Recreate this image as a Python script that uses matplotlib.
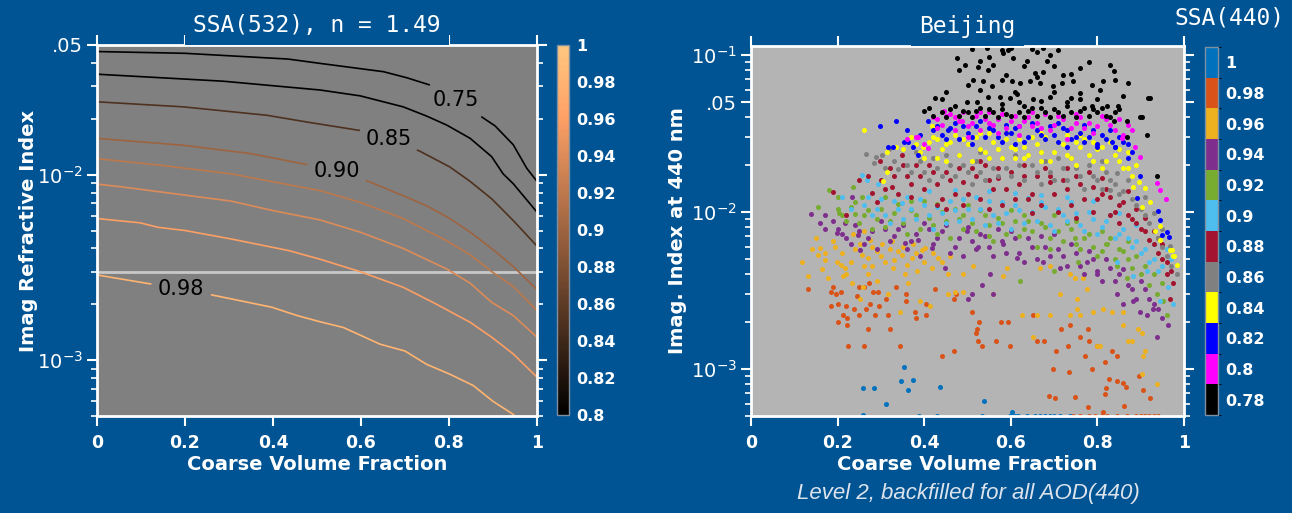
import numpy as np
import matplotlib
matplotlib.use('Agg')
import matplotlib.pyplot as plt
from matplotlib.colors import Normalize, ListedColormap, BoundaryNorm
from matplotlib.cm import ScalarMappable
from matplotlib.contour import ContourSet
from matplotlib.ticker import FixedLocator, FixedFormatter, LogLocator, NullFormatter

BG = '#005493'

# ---- left panel: SSA(532) isolines, coarse fraction vs imaginary index ----
ssa_levels = [0.75, 0.80, 0.85, 0.90, 0.92, 0.94, 0.96, 0.98]

cvf_075 = [0, 0.2, 0.434, 0.507, 0.651, 0.704, 0.757, 0.815, 0.874, 0.905, 0.946, 0.977, 1.0]
k_075 = [0.0461, 0.0451, 0.0420, 0.0398, 0.0359, 0.0333, 0.0304, 0.0254, 0.0205, 0.0183, 0.0145, 0.0108, 0.0092]

cvf_080 = [0, 0.287, 0.507, 0.598, 0.696, 0.749, 0.795, 0.848, 0.897, 0.923, 0.946, 1.0]
k_080 = [0.0348, 0.0319, 0.0286, 0.0266, 0.0232, 0.0207, 0.0185, 0.0157, 0.0125, 0.0101, 0.00894, 0.00628]

cvf_085 = [0, 0.196, 0.386, 0.484, 0.598, 0.664, 0.734, 0.802, 0.848, 0.897, 0.946, 1.0]
k_085 = [0.0247, 0.0232, 0.0209, 0.0191, 0.0173, 0.0155, 0.01337, 0.0110, 0.0092, 0.00741, 0.00566, 0.00412]

cvf_090 = [0, 0.196, 0.348, 0.48, 0.548, 0.617, 0.696, 0.749, 0.802, 0.848, 0.897, 0.946, 1.0]
k_090 = [0.0157, 0.0144, 0.0130, 0.0113, 0.0105, 0.0092, 0.0077, 0.0068, 0.0058, 0.0049, 0.0040, 0.0032, 0.0024]

cvf_092 = [0, 0.136, 0.305, 0.507, 0.598, 0.696, 0.795, 0.848, 0.897, 0.946, 1.0]
k_092 = [0.0122, 0.0113, 0.0101, 0.0082, 0.0071, 0.0058, 0.0044, 0.0037, 0.0030, 0.0025, 0.00185]

cvf_094 = [0, 0.055, 0.305, 0.4, 0.507, 0.598, 0.696, 0.795, 0.848, 0.897, 0.946, 1.0]
k_094 = [0.0089, 0.0086, 0.0072, 0.0064, 0.0057, 0.0049, 0.0040, 0.0031, 0.0026, 0.00205, 0.00174, 0.00133]

cvf_096 = [0, 0.098, 0.139, 0.2, 0.305, 0.435, 0.507, 0.598, 0.696, 0.772, 0.848, 0.897, 0.946, 1.0]
k_096 = [0.0058, 0.0055, 0.0052, 0.0050, 0.0045, 0.0039, 0.0035, 0.0030, 0.00247, 0.0020, 0.0016, 0.00133, 0.00108, 0.00081]

cvf_098 = [0, 0.136, 0.26, 0.397, 0.455, 0.507, 0.56, 0.643, 0.70, 0.749, 0.802, 0.855, 0.90, 0.946, 0.96]
k_098 = [0.00288, 0.00254, 0.00225, 0.00193, 0.00174, 0.00161, 0.0015, 0.00122, 0.00112, 0.00095, 0.00084, 0.00073, 0.0006, 0.00051, 0.00047]

cvf_lines = [cvf_075, cvf_080, cvf_085, cvf_090, cvf_092, cvf_094, cvf_096, cvf_098]
k_lines = [k_075, k_080, k_085, k_090, k_092, k_094, k_096, k_098]

# where the four labelled isolines carry their value
label_xy = [(0.821, 0.0263), (0.664, 0.0158), (0.548, 0.01115), (0.189, 0.00225)]
k_ref = 0.003

cb1_ticks = [0.8, 0.82, 0.84, 0.86, 0.88, 0.9, 0.92, 0.94, 0.96, 0.98, 1.0]
cb1_labels = ['0.8', '0.82', '0.84', '0.86', '0.88', '0.9', '0.92', '0.94', '0.96', '0.98', '1']

x_ticks = [0, 0.2, 0.4, 0.6, 0.8, 1.0]
x_labels = ['0', '0.2', '0.4', '0.6', '0.8', '1']

# ---- right panel: Beijing retrievals, binned by SSA(440) ----
ssa_classes = [0.78, 0.80, 0.82, 0.84, 0.86, 0.88, 0.90, 0.92, 0.94, 0.96, 0.98, 1.00]
ssa_class_labels = ['0.78', '0.8', '0.82', '0.84', '0.86', '0.88', '0.9', '0.92', '0.94', '0.96', '0.98', '1']
ssa_colors = ['#000000', '#FF00FF', '#0000FF', '#FFFF00', '#808080', '#A2142F',
              '#4DBEEE', '#77AC30', '#7E2F8E', '#EDB120', '#D95319', '#0072BD']

pts_078 = [(0.51, 0.109), (0.545, 0.111), (0.58, 0.108), (0.60, 0.110), (0.65, 0.109), (0.675, 0.111), (0.71, 0.108),
           (0.476, 0.096), (0.494, 0.086), (0.48, 0.080), (0.524, 0.084), (0.547, 0.080), (0.559, 0.086), (0.582, 0.103),
           (0.594, 0.107), (0.637, 0.091), (0.684, 0.092), (0.656, 0.077), (0.674, 0.078), (0.513, 0.069), (0.536, 0.068),
           (0.557, 0.063), (0.580, 0.069), (0.603, 0.068), (0.621, 0.066), (0.644, 0.068), (0.667, 0.066), (0.697, 0.063),
           (0.718, 0.066), (0.744, 0.068), (0.788, 0.064), (0.813, 0.068), (0.829, 0.086), (0.841, 0.069), (0.806, 0.060),
           (0.838, 0.079), (0.547, 0.054), (0.575, 0.054), (0.598, 0.053), (0.614, 0.056), (0.651, 0.052), (0.691, 0.054),
           (0.730, 0.050), (0.760, 0.052), (0.788, 0.047), (0.822, 0.047), (0.848, 0.047), (0.921, 0.053), (0.425, 0.053),
           (0.441, 0.052), (0.499, 0.050), (0.522, 0.050), (0.40, 0.044), (0.42, 0.041), (0.44, 0.043), (0.46, 0.045),
           (0.48, 0.041), (0.50, 0.043), (0.52, 0.044), (0.54, 0.041), (0.56, 0.043), (0.58, 0.045), (0.60, 0.041),
           (0.62, 0.043), (0.64, 0.044), (0.66, 0.041), (0.68, 0.043), (0.70, 0.045), (0.72, 0.041), (0.74, 0.043),
           (0.76, 0.044), (0.78, 0.041), (0.80, 0.043), (0.82, 0.041), (0.84, 0.043), (0.47, 0.047), (0.53, 0.046),
           (0.57, 0.040), (0.63, 0.047), (0.67, 0.046), (0.73, 0.047), (0.77, 0.046), (0.61, 0.058), (0.70, 0.058),
           (0.53, 0.060), (0.76, 0.057), (0.66, 0.072), (0.59, 0.075), (0.72, 0.074), (0.63, 0.085), (0.55, 0.097),
           (0.69, 0.100), (0.76, 0.083), (0.868, 0.038), (0.898, 0.040), (0.915, 0.031), (0.868, 0.030), (0.938, 0.017),
           (0.917, 0.053), (0.903, 0.040), (0.838, 0.038),
           (0.41, 0.046), (0.45, 0.040), (0.49, 0.044), (0.51, 0.040), (0.55, 0.045), (0.59, 0.042), (0.63, 0.040),
           (0.65, 0.046), (0.69, 0.040), (0.71, 0.043), (0.75, 0.040), (0.79, 0.045), (0.81, 0.046), (0.83, 0.040),
           (0.85, 0.045), (0.62, 0.050), (0.67, 0.051), (0.58, 0.049), (0.74, 0.053), (0.80, 0.052), (0.45, 0.058),
           (0.86, 0.055), (0.50, 0.064), (0.70, 0.085), (0.53, 0.092), (0.605, 0.095), (0.66, 0.105), (0.74, 0.076),
           (0.78, 0.090), (0.87, 0.066)]

pts_080 = [(0.42, 0.040), (0.44, 0.036), (0.46, 0.042), (0.48, 0.038), (0.50, 0.035), (0.52, 0.041), (0.54, 0.039),
           (0.56, 0.036), (0.58, 0.042), (0.60, 0.038), (0.62, 0.035), (0.64, 0.040), (0.66, 0.037), (0.68, 0.042),
           (0.70, 0.036), (0.72, 0.039), (0.74, 0.034), (0.76, 0.040), (0.78, 0.037), (0.80, 0.035), (0.82, 0.039),
           (0.84, 0.033), (0.86, 0.031), (0.87, 0.036), (0.38, 0.030), (0.40, 0.027), (0.36, 0.029), (0.446, 0.044),
           (0.43, 0.039), (0.386, 0.030), (0.408, 0.0256), (0.471, 0.040), (0.487, 0.038), (0.857, 0.0296),
           (0.887, 0.026), (0.898, 0.0224), (0.937, 0.0153), (0.945, 0.0137), (0.958, 0.0121), (0.50, 0.030),
           (0.62, 0.031), (0.73, 0.029), (0.55, 0.043), (0.65, 0.043), (0.75, 0.042), (0.47, 0.033), (0.57, 0.032),
           (0.69, 0.033), (0.79, 0.032),
           (0.43, 0.034), (0.45, 0.041), (0.49, 0.043), (0.51, 0.037), (0.53, 0.033), (0.55, 0.037), (0.57, 0.039),
           (0.59, 0.034), (0.61, 0.041), (0.63, 0.038), (0.67, 0.034), (0.71, 0.041), (0.77, 0.034), (0.81, 0.041),
           (0.83, 0.036), (0.85, 0.039), (0.88, 0.033), (0.75, 0.037), (0.65, 0.035), (0.53, 0.043)]

pts_082 = [(0.335, 0.038), (0.297, 0.035), (0.36, 0.033), (0.353, 0.028), (0.363, 0.028), (0.317, 0.026), (0.328, 0.026),
           (0.374, 0.026), (0.386, 0.023), (0.409, 0.038), (0.42, 0.033), (0.455, 0.033), (0.44, 0.031), (0.46, 0.034),
           (0.48, 0.029), (0.50, 0.032), (0.52, 0.035), (0.54, 0.030), (0.56, 0.033), (0.58, 0.028), (0.60, 0.032),
           (0.62, 0.035), (0.64, 0.030), (0.66, 0.033), (0.68, 0.029), (0.70, 0.031), (0.72, 0.034), (0.74, 0.029),
           (0.76, 0.032), (0.78, 0.030), (0.80, 0.027), (0.82, 0.029), (0.84, 0.026), (0.86, 0.028), (0.47, 0.037),
           (0.53, 0.038), (0.59, 0.036), (0.65, 0.037), (0.71, 0.037), (0.77, 0.036), (0.83, 0.033), (0.51, 0.027),
           (0.61, 0.027), (0.73, 0.026), (0.834, 0.028), (0.841, 0.026), (0.80, 0.026), (0.87, 0.022), (0.898, 0.0168),
           (0.891, 0.0123), (0.94, 0.0101), (0.945, 0.0089), (0.96, 0.0074), (0.965, 0.0069), (0.95, 0.0071),
           (0.45, 0.029), (0.49, 0.035), (0.51, 0.030), (0.55, 0.034), (0.57, 0.030), (0.59, 0.032), (0.61, 0.034),
           (0.63, 0.028), (0.67, 0.031), (0.69, 0.035), (0.71, 0.028), (0.73, 0.033), (0.75, 0.030), (0.77, 0.028),
           (0.79, 0.033), (0.81, 0.031), (0.85, 0.030), (0.87, 0.027), (0.43, 0.035), (0.39, 0.031), (0.88, 0.024)]

pts_084 = [(0.261, 0.033), (0.314, 0.018), (0.305, 0.0158), (0.336, 0.026), (0.397, 0.026), (0.418, 0.035), (0.43, 0.029),
           (0.314, 0.024), (0.38, 0.027), (0.40, 0.022), (0.42, 0.030), (0.44, 0.025), (0.46, 0.028), (0.48, 0.023),
           (0.50, 0.027), (0.52, 0.030), (0.54, 0.024), (0.56, 0.028), (0.58, 0.022), (0.60, 0.026), (0.62, 0.029),
           (0.64, 0.023), (0.66, 0.027), (0.68, 0.030), (0.70, 0.024), (0.72, 0.027), (0.74, 0.022), (0.76, 0.026),
           (0.78, 0.023), (0.80, 0.025), (0.82, 0.021), (0.84, 0.023), (0.86, 0.019), (0.88, 0.017), (0.45, 0.021),
           (0.51, 0.021), (0.57, 0.025), (0.63, 0.026), (0.69, 0.021), (0.75, 0.028), (0.81, 0.019), (0.47, 0.031),
           (0.55, 0.032), (0.61, 0.022), (0.67, 0.024), (0.73, 0.031), (0.79, 0.028), (0.85, 0.025), (0.882, 0.0145),
           (0.91, 0.0142), (0.921, 0.0116), (0.903, 0.0108), (0.945, 0.0081), (0.972, 0.0057), (0.975, 0.0052),
           (0.968, 0.0057), (0.977, 0.0052), (0.983, 0.0046), (0.933, 0.0076), (0.945, 0.0066), (0.895, 0.0155),
           (0.87, 0.019),
           (0.39, 0.024), (0.41, 0.028), (0.43, 0.022), (0.45, 0.027), (0.49, 0.029), (0.53, 0.025), (0.55, 0.022),
           (0.59, 0.029), (0.61, 0.025), (0.63, 0.022), (0.65, 0.030), (0.67, 0.021), (0.71, 0.028), (0.73, 0.023),
           (0.75, 0.020), (0.77, 0.029), (0.79, 0.021), (0.81, 0.026), (0.83, 0.028), (0.85, 0.021), (0.87, 0.024),
           (0.89, 0.020), (0.35, 0.025), (0.37, 0.030), (0.53, 0.032), (0.59, 0.032), (0.67, 0.032), (0.76, 0.031)]

pts_086 = [(0.266, 0.0235), (0.289, 0.0224), (0.284, 0.0206), (0.302, 0.0229), (0.319, 0.0252), (0.34, 0.0188),
           (0.36, 0.020), (0.40, 0.018), (0.42, 0.022), (0.44, 0.017), (0.46, 0.020), (0.48, 0.023), (0.50, 0.018),
           (0.52, 0.021), (0.54, 0.016), (0.56, 0.019), (0.58, 0.022), (0.60, 0.017), (0.62, 0.020), (0.64, 0.023),
           (0.66, 0.018), (0.68, 0.021), (0.70, 0.016), (0.72, 0.019), (0.74, 0.022), (0.76, 0.017), (0.78, 0.020),
           (0.80, 0.016), (0.82, 0.018), (0.84, 0.015), (0.86, 0.0135), (0.88, 0.012), (0.90, 0.0105), (0.92, 0.0085),
           (0.94, 0.0068), (0.96, 0.0052), (0.97, 0.0045), (0.983, 0.0040), (0.845, 0.0177), (0.83, 0.0138),
           (0.38, 0.024), (0.53, 0.024), (0.67, 0.024), (0.81, 0.021), (0.87, 0.016), (0.91, 0.0125), (0.93, 0.0098),
           (0.95, 0.0078), (0.968, 0.0061),
           (0.37, 0.018), (0.39, 0.021), (0.41, 0.016), (0.43, 0.019), (0.45, 0.023), (0.47, 0.017), (0.49, 0.020),
           (0.51, 0.015), (0.53, 0.018), (0.55, 0.022), (0.57, 0.017), (0.59, 0.019), (0.61, 0.023), (0.63, 0.016),
           (0.65, 0.020), (0.67, 0.015), (0.69, 0.018), (0.71, 0.022), (0.73, 0.016), (0.75, 0.019), (0.77, 0.014),
           (0.79, 0.017), (0.81, 0.014), (0.83, 0.016), (0.85, 0.013), (0.89, 0.0110), (0.91, 0.0095), (0.95, 0.0060),
           (0.33, 0.021), (0.31, 0.019)]

pts_088 = [(0.298, 0.021), (0.279, 0.0131), (0.189, 0.0134), (0.325, 0.0145), (0.348, 0.023), (0.22, 0.0095), (0.25, 0.016),
           (0.30, 0.016), (0.32, 0.019), (0.34, 0.013), (0.36, 0.017), (0.38, 0.020), (0.40, 0.014), (0.42, 0.018),
           (0.44, 0.012), (0.46, 0.016), (0.48, 0.019), (0.50, 0.013), (0.52, 0.017), (0.54, 0.020), (0.56, 0.014),
           (0.58, 0.011), (0.60, 0.018), (0.62, 0.015), (0.64, 0.012), (0.66, 0.017), (0.68, 0.019), (0.70, 0.013),
           (0.72, 0.016), (0.74, 0.011), (0.76, 0.015), (0.78, 0.018), (0.80, 0.012), (0.82, 0.014), (0.84, 0.010),
           (0.86, 0.0115), (0.88, 0.009), (0.90, 0.0078), (0.92, 0.0066), (0.94, 0.0055), (0.95, 0.0062), (0.96, 0.0048),
           (0.97, 0.0042), (0.975, 0.0035), (0.968, 0.0028), (0.45, 0.0105), (0.55, 0.0105), (0.65, 0.0098),
           (0.75, 0.0092), (0.85, 0.0085), (0.37, 0.0125), (0.53, 0.021), (0.63, 0.020), (0.73, 0.019), (0.43, 0.015),
           (0.49, 0.0155), (0.57, 0.0165), (0.69, 0.0155), (0.79, 0.0145), (0.83, 0.0125), (0.89, 0.0105),
           (0.91, 0.0092), (0.93, 0.0075), (0.87, 0.0135), (0.81, 0.0165), (0.94, 0.0068),
           (0.31, 0.014), (0.33, 0.017), (0.35, 0.020), (0.37, 0.015), (0.39, 0.017), (0.41, 0.020), (0.43, 0.011),
           (0.45, 0.018), (0.47, 0.013), (0.49, 0.011), (0.51, 0.019), (0.53, 0.012), (0.55, 0.016), (0.57, 0.019),
           (0.59, 0.014), (0.61, 0.012), (0.63, 0.017), (0.65, 0.013), (0.67, 0.011), (0.69, 0.017), (0.71, 0.010),
           (0.73, 0.014), (0.75, 0.017), (0.77, 0.012), (0.79, 0.010), (0.81, 0.013), (0.83, 0.0095), (0.85, 0.011),
           (0.87, 0.0095), (0.89, 0.0085), (0.91, 0.0075), (0.93, 0.0062), (0.95, 0.0050), (0.96, 0.0040),
           (0.27, 0.017), (0.29, 0.0115)]

pts_090 = [(0.256, 0.0172), (0.267, 0.016), (0.294, 0.015), (0.348, 0.0114), (0.21, 0.0125), (0.23, 0.0105),
           (0.26, 0.011), (0.28, 0.0095), (0.30, 0.012), (0.32, 0.0085), (0.34, 0.0105), (0.36, 0.0125), (0.38, 0.009),
           (0.40, 0.011), (0.42, 0.0078), (0.44, 0.0098), (0.46, 0.0118), (0.48, 0.0088), (0.50, 0.0105), (0.52, 0.0125),
           (0.54, 0.0082), (0.56, 0.0095), (0.58, 0.0115), (0.60, 0.0078), (0.62, 0.0102), (0.64, 0.0122), (0.66, 0.0088),
           (0.68, 0.0107), (0.70, 0.0075), (0.72, 0.0095), (0.74, 0.0115), (0.76, 0.0082), (0.78, 0.0100), (0.80, 0.0072),
           (0.82, 0.0088), (0.84, 0.0068), (0.86, 0.0078), (0.88, 0.0060), (0.90, 0.0055), (0.92, 0.0048), (0.94, 0.0042),
           (0.914, 0.0042), (0.963, 0.0033), (0.975, 0.0026), (0.945, 0.0027), (0.882, 0.0039), (0.845, 0.0048),
           (0.96, 0.0058), (0.97, 0.0050), (0.41, 0.0135), (0.47, 0.0138), (0.55, 0.0135), (0.61, 0.0132),
           (0.67, 0.0128), (0.73, 0.0125), (0.79, 0.0118), (0.85, 0.0098), (0.89, 0.0082), (0.93, 0.0062),
           (0.27, 0.0125), (0.29, 0.0105), (0.31, 0.0095), (0.33, 0.0118), (0.35, 0.0090), (0.37, 0.0105),
           (0.39, 0.0120), (0.41, 0.0095), (0.43, 0.0108), (0.45, 0.0085), (0.47, 0.0102), (0.49, 0.0120),
           (0.51, 0.0090), (0.53, 0.0105), (0.55, 0.0118), (0.57, 0.0085), (0.59, 0.0098), (0.61, 0.0110),
           (0.63, 0.0085), (0.65, 0.0100), (0.67, 0.0115), (0.69, 0.0082), (0.71, 0.0105), (0.73, 0.0088),
           (0.75, 0.0098), (0.77, 0.0075), (0.79, 0.0090), (0.81, 0.0080), (0.83, 0.0095), (0.85, 0.0072),
           (0.87, 0.0068), (0.89, 0.0065), (0.91, 0.0058), (0.93, 0.0050), (0.95, 0.0045)]

pts_092 = [(0.18, 0.0138), (0.154, 0.0108), (0.201, 0.0125), (0.236, 0.0145), (0.256, 0.0125), (0.203, 0.0098), (0.24, 0.0097),
           (0.20, 0.0105), (0.22, 0.0088), (0.24, 0.0115), (0.26, 0.0095), (0.28, 0.0078), (0.30, 0.0105), (0.32, 0.0088),
           (0.34, 0.0112), (0.36, 0.0072), (0.38, 0.0095), (0.40, 0.0118), (0.42, 0.0082), (0.44, 0.0100), (0.46, 0.0068),
           (0.48, 0.0090), (0.50, 0.0110), (0.52, 0.0075), (0.54, 0.0095), (0.56, 0.0065), (0.58, 0.0085), (0.60, 0.0102),
           (0.62, 0.0070), (0.64, 0.0088), (0.66, 0.0060), (0.68, 0.0080), (0.70, 0.0095), (0.72, 0.0065), (0.74, 0.0078),
           (0.76, 0.0058), (0.78, 0.0072), (0.80, 0.0052), (0.82, 0.0062), (0.84, 0.0050), (0.86, 0.0056), (0.88, 0.0044),
           (0.90, 0.0040), (0.92, 0.0034), (0.938, 0.0030), (0.952, 0.0027), (0.961, 0.0022), (0.868, 0.0038),
           (0.755, 0.0048), (0.621, 0.0036), (0.70, 0.0042), (0.845, 0.0045), (0.822, 0.0062), (0.748, 0.0068),
           (0.31, 0.0125), (0.37, 0.0118), (0.43, 0.0112), (0.49, 0.0078), (0.55, 0.0082), (0.63, 0.0078),
           (0.69, 0.0068), (0.75, 0.0088), (0.81, 0.0075), (0.87, 0.0065),
           (0.21, 0.0095), (0.23, 0.0108), (0.25, 0.0085), (0.27, 0.0102), (0.29, 0.0090), (0.31, 0.0080),
           (0.33, 0.0098), (0.35, 0.0085), (0.37, 0.0102), (0.39, 0.0078), (0.41, 0.0092), (0.43, 0.0072),
           (0.45, 0.0088), (0.47, 0.0105), (0.49, 0.0095), (0.51, 0.0085), (0.53, 0.0102), (0.55, 0.0070),
           (0.57, 0.0092), (0.59, 0.0072), (0.61, 0.0088), (0.63, 0.0095), (0.65, 0.0075), (0.67, 0.0085),
           (0.69, 0.0058), (0.71, 0.0075), (0.73, 0.0085), (0.75, 0.0062), (0.77, 0.0068), (0.79, 0.0060),
           (0.81, 0.0056), (0.83, 0.0068), (0.85, 0.0058), (0.87, 0.0050), (0.89, 0.0052), (0.91, 0.0045),
           (0.93, 0.0040), (0.95, 0.0035)]

pts_094 = [(0.139, 0.0097), (0.171, 0.0096), (0.217, 0.0085), (0.233, 0.0125), (0.198, 0.0073), (0.247, 0.0071),
           (0.252, 0.0057), (0.356, 0.0063), (0.386, 0.0066), (0.417, 0.0059), (0.448, 0.0044), (0.499, 0.0075),
           (0.524, 0.006), (0.582, 0.0062), (0.614, 0.0051), (0.674, 0.0048), (0.714, 0.0044), (0.776, 0.0048),
           (0.799, 0.0040), (0.845, 0.0030), (0.859, 0.0026), (0.882, 0.0027), (0.898, 0.0023), (0.914, 0.0022),
           (0.938, 0.0016), (0.963, 0.0019), (0.928, 0.0024), (0.50, 0.0028), (0.51, 0.0030), (0.533, 0.0034),
           (0.552, 0.0040), (0.559, 0.0030), (0.16, 0.0085), (0.20, 0.0078), (0.22, 0.0068), (0.24, 0.0082),
           (0.26, 0.0062), (0.28, 0.0075), (0.30, 0.0088), (0.32, 0.0065), (0.34, 0.0078), (0.36, 0.0058), (0.38, 0.0072),
           (0.40, 0.0085), (0.42, 0.0062), (0.44, 0.0075), (0.46, 0.0055), (0.48, 0.0068), (0.50, 0.0080), (0.52, 0.0058),
           (0.54, 0.0070), (0.56, 0.0052), (0.58, 0.0065), (0.60, 0.0075), (0.62, 0.0055), (0.64, 0.0068), (0.66, 0.0050),
           (0.68, 0.0060), (0.70, 0.0072), (0.72, 0.0052), (0.74, 0.0062), (0.76, 0.0045), (0.78, 0.0056), (0.80, 0.0042),
           (0.82, 0.0050), (0.84, 0.0036), (0.86, 0.0043), (0.88, 0.0032), (0.90, 0.0036), (0.92, 0.0028), (0.94, 0.0024),
           (0.17, 0.0078), (0.19, 0.0088), (0.21, 0.0072), (0.23, 0.0062), (0.25, 0.0075), (0.27, 0.0068),
           (0.29, 0.0058), (0.31, 0.0078), (0.33, 0.0070), (0.35, 0.0082), (0.37, 0.0065), (0.39, 0.0052),
           (0.41, 0.0078), (0.43, 0.0068), (0.45, 0.0082), (0.47, 0.0060), (0.49, 0.0052), (0.51, 0.0065),
           (0.53, 0.0072), (0.55, 0.0060), (0.57, 0.0078), (0.59, 0.0055), (0.61, 0.0068), (0.63, 0.0048),
           (0.65, 0.0060), (0.67, 0.0070), (0.69, 0.0052), (0.71, 0.0058), (0.73, 0.0045), (0.75, 0.0055),
           (0.77, 0.0040), (0.79, 0.0050), (0.81, 0.0036), (0.83, 0.0044), (0.85, 0.0040), (0.87, 0.0034),
           (0.89, 0.0028), (0.91, 0.0032), (0.93, 0.0026), (0.95, 0.0021)]

pts_096 = [(0.15, 0.0068), (0.118, 0.0048), (0.132, 0.0039), (0.155, 0.0053), (0.159, 0.0059), (0.171, 0.0055), (0.194, 0.006),
           (0.198, 0.0048), (0.209, 0.0046), (0.217, 0.0044), (0.164, 0.0043), (0.178, 0.0038), (0.212, 0.0039),
           (0.233, 0.0035), (0.252, 0.0062), (0.256, 0.0053), (0.27, 0.0051), (0.279, 0.0045), (0.29, 0.0056),
           (0.302, 0.0062), (0.309, 0.0048), (0.328, 0.0044), (0.34, 0.0056), (0.356, 0.0040), (0.363, 0.0035),
           (0.371, 0.0051), (0.383, 0.0042), (0.394, 0.0057), (0.417, 0.0044), (0.432, 0.0051), (0.455, 0.0040),
           (0.471, 0.0031), (0.455, 0.0030), (0.252, 0.0028), (0.316, 0.0030), (0.344, 0.0023), (0.39, 0.0027),
           (0.413, 0.0025), (0.29, 0.0036), (0.259, 0.0033), (0.275, 0.0066), (0.325, 0.0065), (0.348, 0.0053),
           (0.374, 0.0062), (0.402, 0.0059), (0.235, 0.0072), (0.262, 0.0075), (0.49, 0.0031), (0.559, 0.0030),
           (0.582, 0.0039), (0.626, 0.0022), (0.66, 0.0022), (0.69, 0.0022), (0.651, 0.0016), (0.714, 0.0030),
           (0.737, 0.0040), (0.748, 0.0038), (0.753, 0.0028), (0.767, 0.0038), (0.776, 0.0032), (0.737, 0.0022),
           (0.76, 0.0022), (0.79, 0.0023), (0.813, 0.0024), (0.834, 0.0023), (0.859, 0.0023), (0.859, 0.0019),
           (0.894, 0.0018), (0.903, 0.0017), (0.871, 0.0015), (0.88, 0.0015), (0.91, 0.0013), (0.905, 0.0012),
           (0.806, 0.0014), (0.799, 0.0014), (0.753, 0.0024), (0.938, 0.0008), (0.903, 0.00092), (0.49, 0.0040),
           (0.513, 0.0045), (0.591, 0.0044), (0.667, 0.0044), (0.69, 0.0045),
           (0.14, 0.0058), (0.17, 0.0049), (0.19, 0.0065), (0.21, 0.0055), (0.23, 0.0048), (0.24, 0.0058),
           (0.26, 0.0045), (0.28, 0.0060), (0.30, 0.0052), (0.32, 0.0058), (0.33, 0.0049), (0.35, 0.0060),
           (0.36, 0.0046), (0.38, 0.0055), (0.40, 0.0048), (0.42, 0.0055), (0.44, 0.0048), (0.46, 0.0052),
           (0.22, 0.0040), (0.27, 0.0040)]

pts_098 = [(0.132, 0.0032), (0.189, 0.0033), (0.185, 0.0031), (0.196, 0.0030), (0.207, 0.0031), (0.201, 0.0026),
           (0.185, 0.0025), (0.212, 0.0022), (0.219, 0.0025), (0.221, 0.0019), (0.201, 0.0020), (0.221, 0.0021),
           (0.238, 0.0024), (0.249, 0.0022), (0.249, 0.0033), (0.261, 0.0033), (0.244, 0.0029), (0.266, 0.0024),
           (0.273, 0.0035), (0.274, 0.0026), (0.282, 0.0031), (0.293, 0.0031), (0.286, 0.0022), (0.296, 0.0025),
           (0.316, 0.0022), (0.312, 0.0028), (0.321, 0.0018), (0.334, 0.0033), (0.345, 0.0014), (0.358, 0.0027),
           (0.358, 0.0030), (0.378, 0.0023), (0.381, 0.0021), (0.404, 0.0026), (0.404, 0.0022), (0.425, 0.0032),
           (0.469, 0.0028), (0.473, 0.0030), (0.469, 0.0013), (0.441, 0.0012), (0.270, 0.0018), (0.26, 0.0014),
           (0.224, 0.0014), (0.51, 0.0023), (0.527, 0.0020), (0.521, 0.0018), (0.52, 0.0017), (0.525, 0.0015),
           (0.533, 0.0014), (0.566, 0.0015), (0.577, 0.0020), (0.594, 0.0020), (0.598, 0.0014), (0.651, 0.0022),
           (0.66, 0.0015), (0.677, 0.0015), (0.704, 0.0013), (0.715, 0.0018), (0.731, 0.0014), (0.737, 0.0019),
           (0.759, 0.0016), (0.778, 0.0018), (0.78, 0.0015), (0.771, 0.0012), (0.787, 0.0010), (0.799, 0.0014),
           (0.818, 0.0011), (0.834, 0.0013), (0.845, 0.0012), (0.826, 0.00086), (0.821, 0.00075), (0.845, 0.00083),
           (0.859, 0.00081), (0.865, 0.00076), (0.818, 0.00069), (0.697, 0.0010), (0.701, 0.00065), (0.688, 0.00067),
           (0.748, 0.00066), (0.734, 0.00095), (0.778, 0.00057), (0.813, 0.00053), (0.861, 0.00058), (0.905, 0.00073),
           (0.921, 0.00065), (0.896, 0.00090), (0.744, 0.0005), (0.76, 0.0005), (0.78, 0.0005), (0.794, 0.0005),
           (0.81, 0.0005), (0.822, 0.0005), (0.845, 0.0005), (0.869, 0.0005), (0.89, 0.0005), (0.90, 0.0005),
           (0.91, 0.0005), (0.92, 0.0005), (0.93, 0.0005), (0.94, 0.0005)]

pts_100 = [(0.354, 0.00102), (0.346, 0.00084), (0.374, 0.00085), (0.258, 0.00075), (0.284, 0.00075), (0.362, 0.00073),
           (0.311, 0.0006), (0.437, 0.00077), (0.258, 0.00051), (0.538, 0.00062), (0.603, 0.00053), (0.388, 0.0005),
           (0.43, 0.0005), (0.534, 0.0005), (0.598, 0.0005), (0.61, 0.0005), (0.617, 0.0005), (0.637, 0.0005),
           (0.656, 0.0005), (0.667, 0.0005), (0.68, 0.0005), (0.69, 0.0005), (0.70, 0.0005), (0.714, 0.0005),
           (0.737, 0.0005)]

class_points = [pts_078, pts_080, pts_082, pts_084, pts_086, pts_088,
                pts_090, pts_092, pts_094, pts_096, pts_098, pts_100]


def style_axes(ax, face):
    ax.set_facecolor(face)
    for sp in ax.spines.values():
        sp.set_color('white')
        sp.set_linewidth(2)
    ax.tick_params(which='both', direction='out', colors='white', top=True, right=True)
    ax.tick_params(which='major', length=7, width=1.5)
    ax.tick_params(which='minor', length=4, width=1.2)
    ax.tick_params(axis='x', labelsize=12.5, pad=6)
    ax.tick_params(axis='y', labelsize=14, pad=3)
    ax.set_xticks(x_ticks)
    ax.set_xticklabels(x_labels, fontweight='bold')
    ax.set_xlim(0, 1)


def log_ticks(ax, vals, labels):
    ax.set_yscale('log')
    ax.yaxis.set_major_locator(FixedLocator(vals))
    ax.yaxis.set_major_formatter(FixedFormatter(labels))
    ax.yaxis.set_minor_locator(LogLocator(base=10, subs=np.arange(2, 10)))
    ax.yaxis.set_minor_formatter(NullFormatter())


def panel_title(ax, text):
    ax.annotate(text, xy=(0.5, 1), xycoords='axes fraction', xytext=(0, 6),
                textcoords='offset points', ha='center', va='bottom',
                fontsize=16.5, family='DejaVu Sans Mono', color='white',
                bbox=dict(boxstyle='square,pad=0.35', fc=BG, ec='none'))


fig = plt.figure(figsize=(12.92, 5.13), dpi=100, facecolor=BG)
W, H = 1292, 513

# left: contours
ax1 = fig.add_axes([97 / W, 97 / H, 440 / W, 371 / H])
style_axes(ax1, '#808080')
log_ticks(ax1, [1e-3, 1e-2, 0.05], [r'$10^{-3}$', r'$10^{-2}$', '.05'])

segs = [[np.column_stack([x, k])] for x, k in zip(cvf_lines, k_lines)]
cs = ContourSet(ax1, ssa_levels, segs, cmap='copper', norm=Normalize(0.8, 1.0), linewidths=1.2)
ax1.set_xlim(0, 1)
ax1.set_ylim(5e-4, 0.05)
ax1.axhline(k_ref, color='#C8C8C8', lw=2, zorder=1.5)
clabels = ax1.clabel(cs, manual=label_xy, inline=True,
                     inline_spacing=7, fmt='%.2f', colors='k', fontsize=15)
for t in clabels:
    t.set_rotation(0)

ax1.set_xlabel('Coarse Volume Fraction', fontsize=14, fontweight='bold', color='white')
ax1.set_ylabel('Imag Refractive Index', fontsize=14, fontweight='bold', color='white')
ax1.xaxis.set_label_coords(0.5, -0.105)
ax1.yaxis.set_label_coords(-0.134, 0.5)
panel_title(ax1, 'SSA(532), n = 1.49')

cax1 = fig.add_axes([557 / W, 98 / H, 12 / W, 370 / H])
cb1 = fig.colorbar(ScalarMappable(norm=Normalize(0.8, 1.0), cmap='copper'), cax=cax1, ticks=cb1_ticks)
cb1.ax.set_yticklabels(cb1_labels, fontweight='bold')
cb1.ax.tick_params(colors='white', labelsize=11.5, length=0, pad=5)
cb1.outline.set_edgecolor('#7D8FA3')
cb1.outline.set_linewidth(1)

# right: scatter
ax2 = fig.add_axes([751 / W, 97 / H, 433 / W, 370 / H])
style_axes(ax2, '#B4B4B4')
log_ticks(ax2, [1e-3, 1e-2, 0.05, 0.1], [r'$10^{-3}$', r'$10^{-2}$', '.05', r'$10^{-1}$'])

for pts, col in zip(class_points[::-1], ssa_colors[::-1]):
    xs = [p[0] for p in pts]
    ys = [p[1] for p in pts]
    ax2.scatter(xs, ys, s=13, color=col, linewidths=0, zorder=2)
ax2.set_xlim(0, 1)
ax2.set_ylim(5e-4, 0.114)

ax2.set_xlabel('Coarse Volume Fraction', fontsize=14, fontweight='bold', color='white')
ax2.set_ylabel('Imag. Index at 440 nm', fontsize=14, fontweight='bold', color='white')
ax2.xaxis.set_label_coords(0.5, -0.105)
ax2.yaxis.set_label_coords(-0.148, 0.5)
panel_title(ax2, 'Beijing')

cax2 = fig.add_axes([1205 / W, 98 / H, 13 / W, 368 / H])
cmap2 = ListedColormap(ssa_colors)
bounds = list(np.array(ssa_classes) - 0.01) + [ssa_classes[-1] + 0.01]
norm2 = BoundaryNorm(bounds, cmap2.N)
cb2 = fig.colorbar(ScalarMappable(norm=norm2, cmap=cmap2), cax=cax2, ticks=ssa_classes)
cb2.ax.set_yticklabels(ssa_class_labels, fontweight='bold')
cb2.ax.tick_params(colors='white', labelsize=11.5, length=0, pad=5)
cb2.outline.set_edgecolor('#7D8FA3')
cb2.outline.set_linewidth(1)

fig.text(1229 / W, 1 - 18 / H, 'SSA(440)', ha='center', va='center',
         fontsize=16.5, family='DejaVu Sans Mono', color='white')
fig.text(968 / W, 19 / H, 'Level 2, backfilled for all AOD(440)', ha='center', va='center',
         fontsize=16, style='italic', family='Liberation Sans', color='#DCE3EC')

fig.savefig('out.png', dpi=100, facecolor=BG)
